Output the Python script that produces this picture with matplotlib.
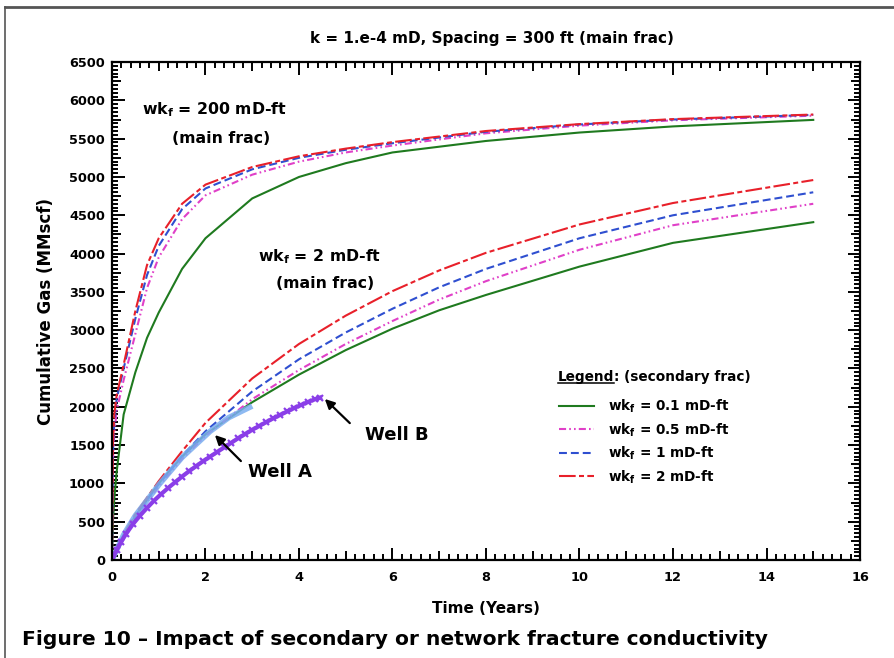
import matplotlib
matplotlib.use("Agg")
import matplotlib.pyplot as plt
from matplotlib.lines import Line2D
from matplotlib.ticker import MultipleLocator

plt.rcParams['font.family'] = ['DejaVu Sans']
plt.rcParams['font.weight'] = 'bold'
plt.rcParams['axes.titleweight'] = 'bold'
plt.rcParams['axes.labelweight'] = 'bold'
plt.rcParams['mathtext.fontset'] = 'custom'
plt.rcParams['mathtext.rm'] = 'DejaVu Sans:bold'
plt.rcParams['mathtext.it'] = 'DejaVu Sans:bold'
plt.rcParams['mathtext.bf'] = 'DejaVu Sans:bold'

# Simulated cumulative gas, main fracture conductivity 200 mD-ft
t_hi = [0, 0.02, 0.05, 0.1, 0.25, 0.5, 0.75, 1, 1.5, 2, 3, 4, 5, 6, 8, 10, 12, 15]
hi_01 = [0, 500, 800, 1150, 1900, 2450, 2900, 3230, 3800, 4200, 4720, 5000, 5180, 5320, 5470, 5580, 5660, 5745]
hi_05 = [0, 1300, 1650, 1950, 2350, 2950, 3550, 3950, 4450, 4760, 5030, 5200, 5320, 5410, 5570, 5670, 5740, 5800]
hi_1 = [0, 1400, 1800, 2100, 2500, 3150, 3720, 4100, 4580, 4850, 5100, 5250, 5355, 5440, 5590, 5685, 5750, 5810]
hi_2 = [0, 1500, 1900, 2150, 2550, 3250, 3850, 4200, 4650, 4900, 5130, 5270, 5370, 5455, 5600, 5690, 5755, 5815]

# Simulated cumulative gas, main fracture conductivity 2 mD-ft
t_lo = [0, 0.25, 0.5, 1, 1.5, 2, 3, 4, 5, 6, 7, 8, 10, 12, 15]
lo_01 = [0, 330, 570, 1000, 1350, 1640, 2060, 2420, 2740, 3020, 3260, 3460, 3830, 4140, 4410]
lo_05 = [0, 320, 560, 960, 1320, 1620, 2100, 2480, 2820, 3120, 3400, 3640, 4050, 4370, 4650]
lo_1 = [0, 330, 580, 990, 1360, 1680, 2200, 2620, 2970, 3280, 3560, 3800, 4200, 4500, 4800]
lo_2 = [0, 340, 600, 1030, 1420, 1790, 2370, 2820, 3190, 3510, 3780, 4010, 4380, 4660, 4960]

# Field production
t_wa = [0, 0.25, 0.5, 1, 1.5, 2.1, 2.5, 3.0]
well_a = [0, 330, 580, 980, 1340, 1680, 1860, 2010]
t_wb = [0, 0.1, 0.2, 0.3, 0.45, 0.6, 0.75, 0.9, 1.05, 1.2, 1.35, 1.5, 1.65, 1.8,
        1.95, 2.1, 2.25, 2.4, 2.55, 2.7, 2.85, 3.0, 3.15, 3.3, 3.45, 3.6, 3.75,
        3.9, 4.05, 4.2, 4.35, 4.45]
well_b = [0, 130, 240, 340, 470, 580, 680, 775, 860, 940, 1015, 1090, 1160, 1225,
          1290, 1350, 1410, 1470, 1530, 1590, 1645, 1700, 1750, 1800, 1850, 1895, 1940,
          1985, 2025, 2065, 2100, 2120]

labels = ['wk$_{\\mathrm{f}}$ = 0.1 mD-ft', 'wk$_{\\mathrm{f}}$ = 0.5 mD-ft',
          'wk$_{\\mathrm{f}}$ = 1 mD-ft', 'wk$_{\\mathrm{f}}$ = 2 mD-ft']
colors = ['#1f7a1f', '#e040c8', '#2f4fd0', '#e8202a']
styles = ['-', (0, (3.4, 1.5, 0.8, 1.5, 0.8, 1.5)), (0, (3.8, 1.9)),
          (0, (8, 1.6, 2.4, 1.6))]

fig = plt.figure(figsize=(8.95, 6.58), dpi=100)
ax = fig.add_axes([0.1251, 0.1489, 0.8358, 0.7568])

for y, c, s in zip([hi_01, hi_05, hi_1, hi_2], colors, styles):
    ax.plot(t_hi, y, color=c, ls=s, lw=1.5)
for y, c, s in zip([lo_01, lo_05, lo_1, lo_2], colors, styles):
    ax.plot(t_lo, y, color=c, ls=s, lw=1.5)

ax.plot(t_wa, well_a, color='#7aaef0', lw=4, alpha=0.85, solid_capstyle='butt')
ax.plot(t_wb, well_b, color='#8a3ee8', lw=3, marker='x', ms=5, mew=1.6)

ax.set_xlim(0, 16)
ax.set_ylim(0, 6500)
ax.xaxis.set_major_locator(MultipleLocator(2))
ax.xaxis.set_minor_locator(MultipleLocator(0.2))
ax.yaxis.set_major_locator(MultipleLocator(500))
ax.yaxis.set_minor_locator(MultipleLocator(50))
ax.tick_params(which='both', direction='in', top=True, right=True, width=1.4)
ax.tick_params(which='major', length=9, labelsize=9.3, pad=5)
ax.tick_params(axis='x', which='major', pad=8)
ax.tick_params(which='minor', length=4.5)
for sp in ax.spines.values():
    sp.set_linewidth(1.6)

# slightly longer minor ticks halfway between the labelled ones
fig.canvas.draw()
for axis, half, step in ((ax.xaxis, 1.0, 2.0), (ax.yaxis, 250.0, 500.0)):
    for tk, loc in zip(axis.get_minor_ticks(), axis.get_minorticklocs()):
        if abs((loc - half) % step) < 1e-6 or abs((loc - half) % step - step) < 1e-6:
            tk.tick1line.set_markersize(6.5)
            tk.tick2line.set_markersize(6.5)

ax.set_xlabel('Time (Years)', fontsize=11, labelpad=12)
ax.set_ylabel('Cumulative Gas (MMscf)', fontsize=12, labelpad=10)
ax.set_title('k = 1.e-4 mD, Spacing = 300 ft (main frac)', fontsize=11, pad=14, x=0.508)

ax.text(2.2, 5873, 'wk$_{\\mathrm{f}}$ = 200 mD-ft', ha='center', va='center', fontsize=11.3)
ax.text(2.33, 5507, '(main frac)', ha='center', va='center', fontsize=11.3)
ax.text(4.45, 3955, 'wk$_{\\mathrm{f}}$ = 2 mD-ft', ha='center', va='center', fontsize=11.3)
ax.text(4.55, 3615, '(main frac)', ha='center', va='center', fontsize=11.3)

arrow = dict(arrowstyle='-|>', color='black', lw=1.6, mutation_scale=14)
ax.annotate('', xy=(2.16, 1657), xytext=(2.8, 1266), arrowprops=arrow)
ax.text(3.59, 1148, 'Well A', ha='center', va='center', fontsize=13)
ax.annotate('', xy=(4.51, 2127), xytext=(5.13, 1762), arrowprops=arrow)
ax.text(6.1, 1631, 'Well B', ha='center', va='center', fontsize=13)

handles = [Line2D([], [], color=c, ls=s, lw=1.5) for c, s in zip(colors, styles)]
ax.legend(handles, labels, loc='upper left', bbox_to_anchor=(0.59, 0.337),
          frameon=False, fontsize=9.8, handlelength=2.6, handletextpad=1.0,
          labelspacing=0.45, borderaxespad=0)

# legend heading with underlined "Legend"
t1 = ax.text(0.596, 0.36, 'Legend', transform=ax.transAxes, fontsize=9.8,
             ha='left', va='baseline')
fig.canvas.draw()
r = fig.canvas.get_renderer()
bb = t1.get_window_extent(r)
inv = ax.transAxes.inverted()
(x0, y0), (x1, _) = inv.transform([(bb.x0, bb.y0), (bb.x1, bb.y0)])
ax.text(x1, 0.36, ': (secondary frac)', transform=ax.transAxes, fontsize=9.8,
        ha='left', va='baseline')
ax.plot([x0, x1], [y0 + 0.001, y0 + 0.001], transform=ax.transAxes, color='black',
        lw=1.1, clip_on=False)

fig.text(0.025, 0.02, 'Figure 10 \u2013 Impact of secondary or network fracture conductivity',
         fontsize=14.6, ha='left', va='baseline')

# page frame
fig.add_artist(Line2D([0.006, 1.0], [0.989, 0.989], transform=fig.transFigure,
                      color='#555555', lw=2))
fig.add_artist(Line2D([0.006, 0.006], [0.0, 0.989], transform=fig.transFigure,
                      color='#555555', lw=1.2))

fig.savefig('out.png', dpi=100)
